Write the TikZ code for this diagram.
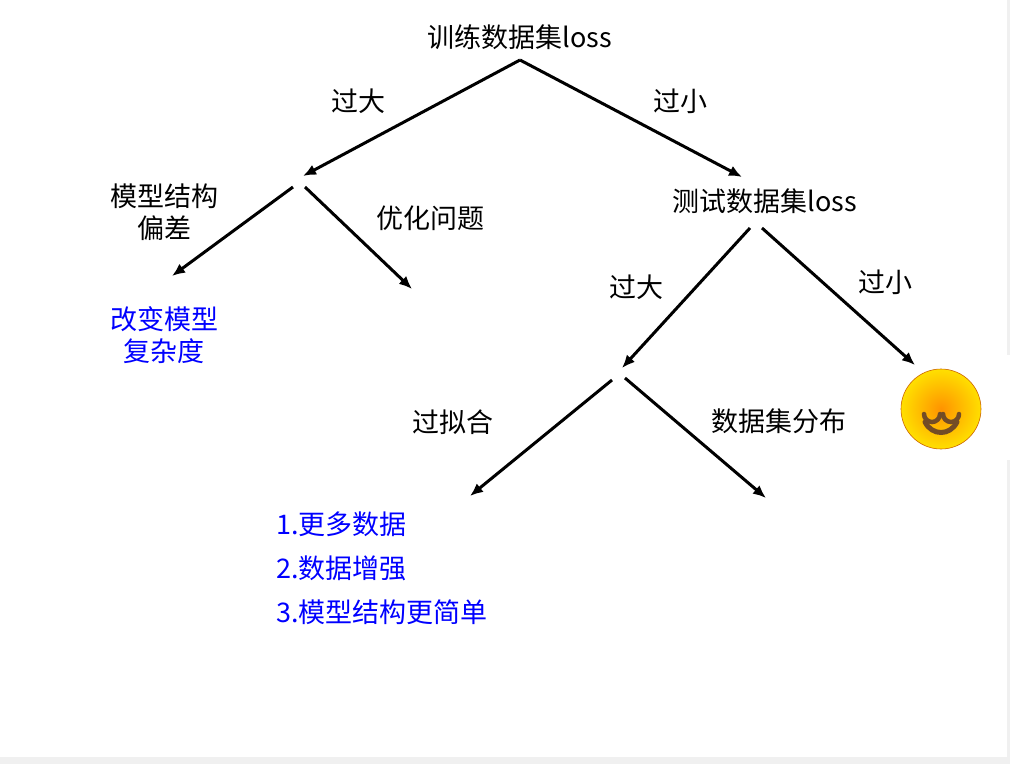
\documentclass[tikz,border=0pt]{standalone}
\usepackage{fontspec}
\setmainfont{Noto Sans CJK SC}
\usetikzlibrary{arrows.meta}
\begin{document}
\begin{tikzpicture}[x=1pt,y=-1pt,
  lbl/.style={font=\fontsize{27}{32}\selectfont, inner sep=0pt},
  blu/.style={lbl, text=blue},
  arr/.style={line width=3pt, -{Latex[length=13pt,width=11pt]}}]
\useasboundingbox (0,0) rectangle (1010,764);
\fill[white] (0,0) rectangle (1010,764);
\fill[black!6] (0,757) rectangle (1010,764);
\fill[black!6] (1007,0) rectangle (1010,355);
\fill[black!6] (1007,460) rectangle (1010,764);
\node[lbl] (root) at (520,37) {训练数据集loss};
\node[lbl] (a1) at (358,101) {过大};
\node[lbl] (a2) at (680,101) {过小};
\node[lbl, align=center] (bias) at (164,212) {模型结构\\偏差};
\node[lbl] (opt) at (430,218) {优化问题};
\node[lbl] (test) at (765,201) {测试数据集loss};
\node[lbl] (b1) at (636,287) {过大};
\node[lbl] (b2) at (885,282) {过小};
\node[blu, align=center] (chg) at (164,335) {改变模型\\复杂度};
\node[lbl] (ovf) at (453,422) {过拟合};
\node[lbl] (dist) at (779,421) {数据集分布};
\node[blu, anchor=west] (l1) at (276,524) {1.更多数据};
\node[blu, anchor=west] (l2) at (276,568) {2.数据增强};
\node[blu, anchor=west] (l3) at (276,612) {3.模型结构更简单};
\coordinate (r0) at (520,60);
\coordinate (L) at (303,176);
\coordinate (R) at (742,177);
\coordinate (Ls) at (293,187);
\coordinate (Rs) at (305,187);
\coordinate (Lend) at (172,276);
\coordinate (Oend) at (412,289);
\coordinate (t1) at (750,228);
\coordinate (t2) at (762,228);
\coordinate (M) at (622,368);
\coordinate (E) at (915,365);
\coordinate (Ms) at (612,380);
\coordinate (Mr) at (625,378);
\coordinate (Oe) at (470,496);
\coordinate (De) at (766,498);
\draw[arr] (r0) -- (L);
\draw[arr] (r0) -- (R);
\draw[arr] (Ls) -- (Lend);
\draw[arr] (Rs) -- (Oend);
\draw[arr] (t1) -- (M);
\draw[arr] (t2) -- (E);
\draw[arr] (Ms) -- (Oe);
\draw[arr] (Mr) -- (De);
% smiley
\shade[inner color=orange!85!yellow, outer color=yellow!75!orange] (941,409) circle (40);
\draw[orange!80!black, line width=0.6pt] (941,409) circle (40);
\draw[brown!60!black, line width=4.5pt, line cap=round] (924,414) arc (180:0:8);
\draw[brown!60!black, line width=4.5pt, line cap=round] (943,414) arc (180:0:8);
\draw[brown!60!black, line width=5pt, line cap=round] (925,422) .. controls (932,436) and (950,436) .. (957,422);
\end{tikzpicture}
\end{document}
